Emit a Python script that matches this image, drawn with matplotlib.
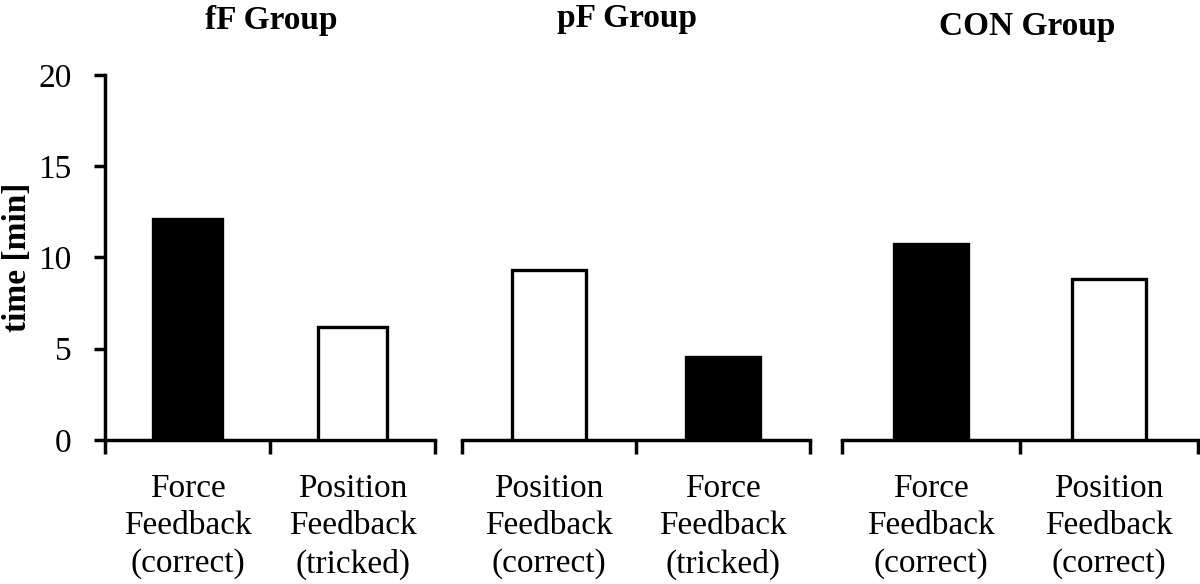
import matplotlib
matplotlib.use("Agg")
import matplotlib.pyplot as plt

plt.rcParams['font.family'] = ['Liberation Serif', 'DejaVu Serif']

# data
groups = ["fF Group", "pF Group", "CON Group"]
labels = [
    ["Force\nFeedback\n(correct)", "Position\nFeedback\n(tricked)"],
    ["Position\nFeedback\n(correct)", "Force\nFeedback\n(tricked)"],
    ["Force\nFeedback\n(correct)", "Position\nFeedback\n(correct)"],
]
values = [
    [12.1, 6.2],
    [9.3, 4.55],
    [10.75, 8.8],
]
fills = [
    ["black", "white"],
    ["white", "black"],
    ["black", "white"],
]
yticks = [0, 5, 10, 15, 20]

FS = 24
W, H = 1200, 584
fig = plt.figure(figsize=(W / 100, H / 100), dpi=100)
boxes = [(0.0875, 0.275), (0.385, 0.29), (0.7017, 0.2966)]
bottom, height = 0.2466, 0.625
# title anchor (px from left, baseline px from top)
title_pos = [(271, 29), (627, 27), (1027, 35)]

for i, (l, w) in enumerate(boxes):
    ax = fig.add_axes([l, bottom, w, height])
    x = [0.5, 1.5]
    ax.bar(x, values[i], width=0.42, color=fills[i], edgecolor="black",
           linewidth=2.4, zorder=3)
    ax.set_xlim(0, 2)
    ax.set_ylim(0, 20)
    ax.set_xticks(x)
    ax.set_xticklabels(labels[i], fontsize=FS, linespacing=1.3)
    ax.set_xticks([0, 1, 2], minor=True)
    ax.tick_params(axis="x", which="major", length=0, pad=24)
    ax.tick_params(axis="x", which="minor", length=10, width=2.5, direction="out")
    for s in ["top", "right"]:
        ax.spines[s].set_visible(False)
    ax.spines["bottom"].set_linewidth(2.5)
    if i == 0:
        ax.set_yticks(yticks)
        ax.set_yticklabels([str(t) for t in yticks], fontsize=FS)
        ax.tick_params(axis="y", length=8, width=2.5, pad=16)
        ax.spines["left"].set_linewidth(2.5)
        ax.set_ylabel("time [min]", fontsize=FS, fontweight="bold", labelpad=4)
    else:
        ax.spines["left"].set_visible(False)
        ax.set_yticks([])
    tx, ty = title_pos[i]
    fig.text(tx / W, 1 - ty / H, groups[i], fontsize=FS, fontweight="bold",
             ha="center", va="baseline")

fig.savefig("out.png", dpi=100)
